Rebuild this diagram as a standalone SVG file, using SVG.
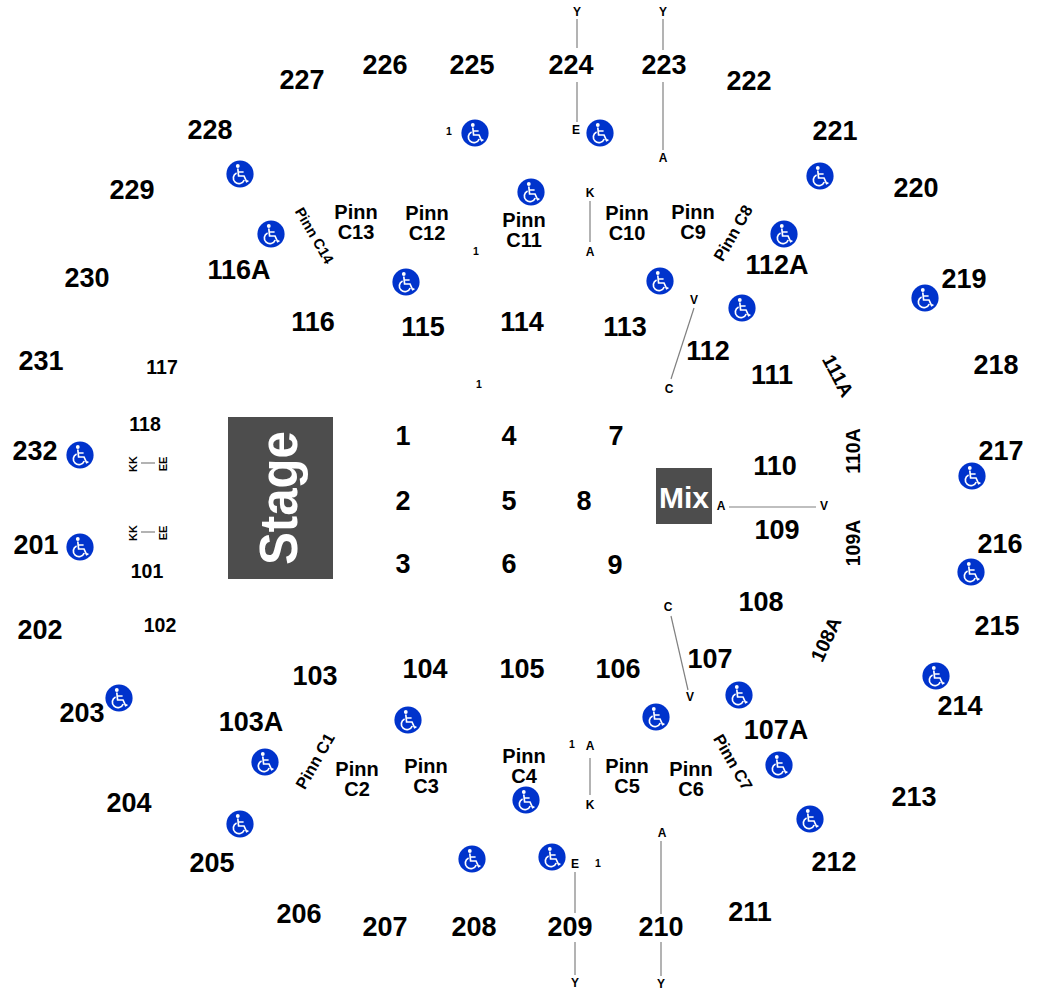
<svg xmlns="http://www.w3.org/2000/svg" width="1043" height="994" viewBox="0 0 1043 994">
<style>
text{font-family:"Liberation Sans",Arial,sans-serif;font-weight:700;text-anchor:middle;fill:#000}
.b{font-size:27px;transform:translateY(-1px)}.m{font-size:20px}.s{font-size:19.5px}.r{font-size:16.5px}.l{font-size:12px}.o{font-size:10.5px}.k{font-size:11px}
.c line{stroke:#808080;stroke-width:1.2}
.w{stroke:#fff;fill:none;stroke-width:1.7}
</style>
<defs>
<g id="wc"><circle r="13.6" fill="#0033cc"/><circle cx="-2.2" cy="-8" r="1.9" fill="#fff"/><path class="w" d="M-2.2-5.5-1.4 2H4L6.6 7.6 8.4 6.8M-1.9-2H3.6"/><path class="w" d="M-3.4-1A5.6 5.6 0 1 0 4.2 6"/></g>
</defs>
<rect id="stage" x="228" y="417" width="105" height="162" fill="#4d4d4d"/>
<text transform="translate(297 498) rotate(-90)" style="font-size:54px;fill:#fff" textLength="134" lengthAdjust="spacingAndGlyphs">Stage</text>
<g id="mix"><rect x="656" y="468" width="56" height="56" fill="#4d4d4d"/><text x="684" y="508" style="font-size:30px;fill:#fff">Mix</text></g>
<g id="connectors" class="c">
<line x1="577" y1="19" x2="577" y2="48"/><line x1="577" y1="82" x2="577" y2="122"/>
<line x1="663" y1="19" x2="663" y2="50"/><line x1="663" y1="82" x2="663" y2="150"/>
<line x1="590" y1="201" x2="590" y2="242"/><line x1="694" y1="308" x2="671" y2="379"/>
<line x1="729" y1="507" x2="816" y2="507"/><line x1="671" y1="616" x2="688" y2="690"/>
<line x1="590" y1="758" x2="590" y2="795"/>
<line x1="661" y1="841" x2="661" y2="914"/><line x1="661" y1="942" x2="661" y2="976"/>
<line x1="575" y1="872" x2="575" y2="913"/><line x1="575" y1="942" x2="575" y2="975"/>
<line x1="141" y1="463" x2="155" y2="463"/><line x1="141" y1="532" x2="155" y2="532"/>
</g>
<g id="access">
<use href="#wc" x="240" y="174"/><use href="#wc" x="271" y="234"/><use href="#wc" x="406" y="282"/><use href="#wc" x="475" y="133"/><use href="#wc" x="600" y="133"/><use href="#wc" x="531" y="192"/><use href="#wc" x="660" y="281"/><use href="#wc" x="784" y="234"/><use href="#wc" x="820" y="176"/><use href="#wc" x="742" y="308"/><use href="#wc" x="925" y="298"/><use href="#wc" x="972" y="476"/><use href="#wc" x="971" y="572"/><use href="#wc" x="936" y="676"/><use href="#wc" x="810" y="819"/><use href="#wc" x="779" y="765"/><use href="#wc" x="739" y="695"/><use href="#wc" x="656" y="717"/><use href="#wc" x="408" y="720"/><use href="#wc" x="265" y="762"/><use href="#wc" x="240" y="824"/><use href="#wc" x="119" y="698"/><use href="#wc" x="80" y="547"/><use href="#wc" x="80" y="455"/><use href="#wc" x="526" y="800"/><use href="#wc" x="472" y="859"/><use href="#wc" x="552" y="857"/>
</g>
<g id="sections">
<text class="b" x="571" y="75">224</text><text class="b" x="664" y="75">223</text><text class="b" x="472" y="75">225</text><text class="b" x="385" y="75">226</text><text class="b" x="302" y="90">227</text><text class="b" x="749" y="91">222</text><text class="b" x="210" y="140">228</text><text class="b" x="835" y="141">221</text><text class="b" x="132" y="200">229</text><text class="b" x="916" y="198">220</text><text class="b" x="87" y="288">230</text><text class="b" x="964" y="289">219</text><text class="b" x="41" y="371">231</text><text class="b" x="996" y="375">218</text><text class="b" x="35" y="461">232</text><text class="b" x="1001" y="461">217</text><text class="b" x="36" y="555">201</text><text class="b" x="1000" y="554">216</text><text class="b" x="40" y="640">202</text><text class="b" x="997" y="636">215</text><text class="b" x="82" y="723">203</text><text class="b" x="960" y="716">214</text><text class="b" x="129" y="813">204</text><text class="b" x="914" y="807">213</text><text class="b" x="212" y="873">205</text><text class="b" x="834" y="872">212</text><text class="b" x="299" y="924">206</text><text class="b" x="750" y="922">211</text><text class="b" x="385" y="937">207</text><text class="b" x="474" y="937">208</text><text class="b" x="570" y="937">209</text><text class="b" x="661" y="937">210</text>
<text class="b" x="239" y="280">116A</text><text class="b" x="777" y="275">112A</text><text class="b" x="313" y="332">116</text><text class="b" x="423" y="337">115</text><text class="b" x="522" y="332">114</text><text class="b" x="625" y="337">113</text><text class="b" x="708" y="361">112</text><text class="b" x="772" y="385">111</text><text class="b" x="775" y="476">110</text><text class="b" x="777" y="540">109</text><text class="b" x="761" y="612">108</text><text class="b" x="710" y="669">107</text><text class="b" x="618" y="679">106</text><text class="b" x="522" y="679">105</text><text class="b" x="425" y="679">104</text><text class="b" x="315" y="686">103</text><text class="b" x="251" y="732">103A</text><text class="b" x="776" y="740">107A</text>
<text class="b" x="403" y="446">1</text><text class="b" x="509" y="446">4</text><text class="b" x="616" y="446">7</text><text class="b" x="403" y="511">2</text><text class="b" x="509" y="511">5</text><text class="b" x="584" y="511">8</text><text class="b" x="403" y="574">3</text><text class="b" x="509" y="574">6</text><text class="b" x="615" y="575">9</text>
<text class="s" x="162" y="374">117</text><text class="s" x="145" y="431">118</text><text class="s" x="147" y="578">101</text><text class="s" x="160" y="632">102</text>
<text class="s" transform="translate(832 379) rotate(62)">111A</text><text class="s" transform="translate(860 451) rotate(-90)">110A</text><text class="s" transform="translate(860 543) rotate(-90)">109A</text><text class="s" transform="translate(832 642) rotate(-65)">108A</text>
</g>
<g id="pinnacles">
<text class="m" x="356" y="219">Pinn</text><text class="m" x="356" y="239">C13</text><text class="m" x="427" y="220">Pinn</text><text class="m" x="427" y="240">C12</text><text class="m" x="524" y="227">Pinn</text><text class="m" x="524" y="247">C11</text><text class="m" x="627" y="220">Pinn</text><text class="m" x="627" y="240">C10</text><text class="m" x="693" y="219">Pinn</text><text class="m" x="693" y="239">C9</text>
<text class="m" x="627" y="773">Pinn</text><text class="m" x="627" y="793">C5</text><text class="m" x="691" y="776">Pinn</text><text class="m" x="691" y="796">C6</text><text class="m" x="524" y="763">Pinn</text><text class="m" x="524" y="783">C4</text><text class="m" x="426" y="773">Pinn</text><text class="m" x="426" y="793">C3</text><text class="m" x="357" y="776">Pinn</text><text class="m" x="357" y="796">C2</text>
<text style="font-size:14.5px" transform="translate(310 238) rotate(60)">Pinn C14</text><text class="r" transform="translate(738 236) rotate(-60)">Pinn C8</text><text class="r" transform="translate(728 765) rotate(60)">Pinn C7</text><text class="r" transform="translate(320 764) rotate(-60)">Pinn C1</text>
</g>
<g id="rows">
<text class="l" x="577" y="16">Y</text><text class="l" x="663" y="16">Y</text><text class="l" x="576" y="134">E</text><text class="l" x="663" y="162">A</text><text class="l" x="590" y="197">K</text><text class="l" x="590" y="256">A</text><text class="l" x="694" y="304">V</text><text class="l" x="669" y="393">C</text><text class="l" x="721" y="510">A</text><text class="l" x="824" y="510">V</text><text class="l" x="668" y="611">C</text><text class="l" x="690" y="701">V</text><text class="l" x="590" y="750">A</text><text class="l" x="590" y="809">K</text><text class="l" x="662" y="837">A</text><text class="l" x="575" y="868">E</text><text class="l" x="575" y="987">Y</text><text class="l" x="661" y="988">Y</text>
<text class="o" x="449" y="135">1</text><text class="o" x="476" y="255">1</text><text class="o" x="479" y="388">1</text><text class="o" x="572" y="748">1</text><text class="o" x="598" y="867">1</text>
<text class="k" transform="translate(137 464) rotate(-90)">KK</text><text class="k" transform="translate(167 464) rotate(-90)">EE</text><text class="k" transform="translate(137 533) rotate(-90)">KK</text><text class="k" transform="translate(167 533) rotate(-90)">EE</text>
</g>
</svg>
